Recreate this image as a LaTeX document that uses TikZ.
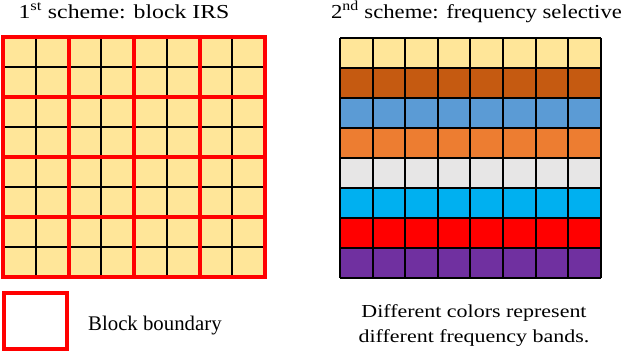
\documentclass[tikz,border=0pt]{standalone}
\usepackage{fontspec}
\setmainfont{Liberation Serif}
\newfontfamily\widefont{Liberation Serif}[FakeStretch=1.2]
\newfontfamily\semiwidefont{Liberation Serif}[FakeStretch=1.145]
\definecolor{cyel}{HTML}{FFE699}
\definecolor{cbrown}{HTML}{C55A11}
\definecolor{cblue}{HTML}{5B9BD5}
\definecolor{corange}{HTML}{ED7D31}
\definecolor{cgray}{HTML}{E7E6E6}
\definecolor{ccyan}{HTML}{00B0F0}
\definecolor{cred}{HTML}{FF0000}
\definecolor{cpurple}{HTML}{7030A0}
\tikzset{
  cellline/.style={black, line width=2pt},
  blockline/.style={cred, line width=4pt},
  title/.style={font=\widefont\fontsize{19.8}{24}\selectfont, inner sep=0pt, anchor=base},
  titleb/.style={font=\semiwidefont\fontsize{19.8}{24}\selectfont, inner sep=0pt, anchor=base},
  caption/.style={font=\widefont\fontsize{18.3}{25}\selectfont, inner sep=0pt, align=center, anchor=base},
  legendtext/.style={font=\fontsize{20.8}{25}\selectfont, inner sep=0pt, anchor=base west}
}
\begin{document}
\begin{tikzpicture}[x=1pt,y=-1pt]
\useasboundingbox (0,0) rectangle (624,354);
% ---- left grid (block IRS)
\def\lx{3}\def\ly{37}\def\lw{32.75}\def\lh{30}
\fill[cyel] (\lx,\ly) rectangle ({\lx+8*\lw},{\ly+8*\lh});
\foreach \i in {0,...,8}{
  \draw[cellline] ({\lx+\i*\lw},\ly) -- ({\lx+\i*\lw},{\ly+8*\lh});
  \draw[cellline] (\lx,{\ly+\i*\lh}) -- ({\lx+8*\lw},{\ly+\i*\lh});
}
\foreach \i in {0,...,3}{
  \foreach \j in {0,...,3}{
    \draw[blockline] ({\lx+2*\i*\lw},{\ly+2*\j*\lh}) rectangle ({\lx+2*(\i+1)*\lw},{\ly+2*(\j+1)*\lh});
  }
}
% ---- right grid (frequency selective)
\def\rx{340}\def\ry{38}\def\rw{32.6}\def\rh{30}
\foreach \c [count=\r from 0] in {cyel,cbrown,cblue,corange,cgray,ccyan,cred,cpurple}{
  \fill[\c] (\rx,{\ry+\r*\rh}) rectangle ({\rx+8*\rw},{\ry+(\r+1)*\rh});
}
\foreach \i in {0,...,8}{
  \draw[cellline] ({\rx+\i*\rw},\ry) -- ({\rx+\i*\rw},{\ry+8*\rh});
  \draw[cellline] (\rx,{\ry+\i*\rh}) -- ({\rx+8*\rw},{\ry+\i*\rh});
}
% ---- titles
\node[title] (t1) at (124,18.3) {1\textsuperscript{st} scheme: block IRS};
\node[titleb] (t2) at (476.5,18.3) {2\textsuperscript{nd} scheme: frequency selective};
% ---- legend
\draw[blockline] (4,293) rectangle (67,349);
\node[legendtext] (lg) at (88,330) {Block boundary};
\node[caption] (cap) at (474,342) {Different colors represent\\different frequency bands.};
\end{tikzpicture}
\end{document}
